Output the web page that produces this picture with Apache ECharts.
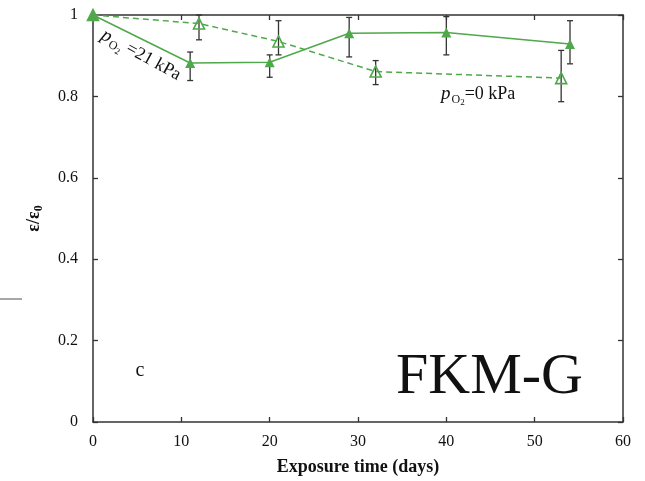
<!DOCTYPE html>
<html>
<head>
<meta charset="utf-8">
<script src="https://cdn.jsdelivr.net/npm/echarts@6/dist/echarts.min.js"></script>
<style>
  html, body { margin: 0; padding: 0; background: #fff; }
  #chart { width: 645px; height: 481px; }
</style>
</head>
<body>
<div id="chart"></div>
<script>
// Relative strain eps/eps0 vs exposure time, FKM-G, two oxygen partial pressures
var days21 = [0, 11, 20, 29, 40, 54];
var eps21 = [1.0, 0.882, 0.884, 0.955, 0.957, 0.929];
var err21Lo = [null, 0.839, 0.847, 0.897, 0.902, 0.880];
var err21Hi = [null, 0.909, 0.902, 0.994, 0.996, 0.986];

var days0 = [0, 12, 21, 32, 53];
var eps0 = [1.0, 0.979, 0.935, 0.861, 0.845];
var err0Lo = [null, 0.939, 0.902, 0.829, 0.787];
var err0Hi = [null, 1.0, 0.986, 0.888, 0.913];

var xTicks = [0, 10, 20, 30, 40, 50, 60];
var yTicks = [0, 0.2, 0.4, 0.6, 0.8, 1];

var GREEN = '#4fa84a';
var INK = '#333333';
var SERIF = '"Liberation Serif", "DejaVu Serif", serif';

function pairs(xs, ys) {
  return xs.map(function (x, i) { return [x, ys[i]]; });
}
function errRows(xs, lo, hi) {
  var rows = [];
  xs.forEach(function (x, i) {
    if (lo[i] != null) rows.push([x, lo[i], hi[i]]);
  });
  return rows;
}

function renderErr(params, api) {
  var x = api.value(0);
  var lo = api.coord([x, api.value(1)]);
  var hi = api.coord([x, api.value(2)]);
  var cap = 3;
  var st = { stroke: INK, lineWidth: 1.3 };
  return {
    type: 'group',
    children: [
      { type: 'line', shape: { x1: hi[0], y1: hi[1], x2: lo[0], y2: lo[1] }, style: st },
      { type: 'line', shape: { x1: hi[0] - cap, y1: hi[1], x2: hi[0] + cap, y2: hi[1] }, style: st },
      { type: 'line', shape: { x1: lo[0] - cap, y1: lo[1], x2: lo[0] + cap, y2: lo[1] }, style: st }
    ]
  };
}

var axisCommon = {
  type: 'value',
  axisLine: { show: true, onZero: false, lineStyle: { color: INK, width: 1.5 } },
  axisTick: { show: true, inside: true, length: 5, lineStyle: { color: INK, width: 1.3 } },
  splitLine: { show: false }
};

// pO2 annotation pieces: italic p, subscript O, sub-subscript 2, rest of label
var pLabelRich = {
  p: { fontFamily: SERIF, fontSize: 19, fontStyle: 'italic', fill: '#111' },
  o: { fontFamily: SERIF, fontSize: 12, fill: '#111', padding: [11, 0, 0, 1] },
  t: { fontFamily: SERIF, fontSize: 9, fill: '#111', padding: [17, 0, 0, 0] },
  n: { fontFamily: SERIF, fontSize: 18, fill: '#111' }
};

var chart = echarts.init(document.getElementById('chart'), null, { renderer: 'canvas' });
chart.setOption({
  backgroundColor: '#fff',
  animation: false,
  grid: { left: 93, right: 22, top: 15, bottom: 57 },
  xAxis: [
    Object.assign({}, axisCommon, {
      position: 'bottom', min: xTicks[0], max: xTicks[xTicks.length - 1], interval: 10,
      axisLabel: { color: '#111', fontFamily: SERIF, fontSize: 16, margin: 12 },
      name: 'Exposure time (days)', nameLocation: 'middle', nameGap: 36,
      nameTextStyle: { color: '#111', fontFamily: SERIF, fontSize: 18, fontWeight: 'bold' }
    }),
    Object.assign({}, axisCommon, {
      position: 'top', min: xTicks[0], max: xTicks[xTicks.length - 1], interval: 10,
      axisLabel: { show: false }
    })
  ],
  yAxis: [
    Object.assign({}, axisCommon, {
      position: 'left', min: yTicks[0], max: yTicks[yTicks.length - 1], interval: 0.2,
      axisLabel: { color: '#111', fontFamily: SERIF, fontSize: 16, margin: 15 },
      name: '{a|ε/ε}{s|0}', nameLocation: 'middle', nameGap: 48,
      nameTextStyle: {
        color: '#111', fontFamily: SERIF, fontSize: 18, fontWeight: 'bold',
        rich: {
          a: { fontFamily: SERIF, fontSize: 18, fontWeight: 'bold', color: '#111' },
          s: { fontFamily: SERIF, fontSize: 12, fontWeight: 'bold', color: '#111', padding: [10, 0, 0, 0] }
        }
      }
    }),
    Object.assign({}, axisCommon, {
      position: 'right', min: yTicks[0], max: yTicks[yTicks.length - 1], interval: 0.2,
      axisLabel: { show: false }
    })
  ],
  series: [
    {
      type: 'custom', name: 'err0', renderItem: renderErr, clip: false, z: 1,
      data: errRows(days0, err0Lo, err0Hi)
    },
    {
      type: 'custom', name: 'err21', renderItem: renderErr, clip: false, z: 1,
      data: errRows(days21, err21Lo, err21Hi)
    },
    {
      type: 'line', name: 'pO2 = 0 kPa', data: pairs(days0, eps0), clip: false, z: 3,
      symbol: 'triangle', symbolSize: 11,
      lineStyle: { color: GREEN, width: 1.5, type: [6, 4] },
      itemStyle: { color: 'rgba(255,255,255,0)', borderColor: GREEN, borderWidth: 1.6 }
    },
    {
      type: 'line', name: 'pO2 = 21 kPa', data: pairs(days21, eps21), clip: false, z: 4,
      symbol: 'triangle', symbolSize: 10,
      lineStyle: { color: GREEN, width: 1.5 },
      itemStyle: { color: GREEN, borderWidth: 0 }
    }
  ],
  graphic: [
    {
      type: 'text', x: 141, y: 55, rotation: -0.5, z: 10,
      style: {
        text: '{p|p}{o|O}{t|2}{n| =21 kPa}',
        align: 'center', verticalAlign: 'middle',
        rich: pLabelRich
      }
    },
    {
      type: 'text', x: 441, y: 94, z: 10,
      style: {
        text: '{p|p}{o|O}{t|2}{n|=0 kPa}',
        align: 'left', verticalAlign: 'middle',
        rich: pLabelRich
      }
    },
    {
      type: 'text', x: 140, y: 371, z: 10,
      style: { text: 'c', fontFamily: SERIF, fontSize: 20, fill: '#111', align: 'center', verticalAlign: 'middle' }
    },
    {
      type: 'text', x: 583, y: 378, z: 10,
      style: { text: 'FKM-G', fontFamily: SERIF, fontSize: 58, fill: '#111', align: 'right', verticalAlign: 'middle' }
    },
    {
      type: 'line', z: 10,
      shape: { x1: 0, y1: 299, x2: 22, y2: 299 },
      style: { stroke: '#8a8a8a', lineWidth: 1.5 }
    }
  ]
});
</script>
</body>
</html>
